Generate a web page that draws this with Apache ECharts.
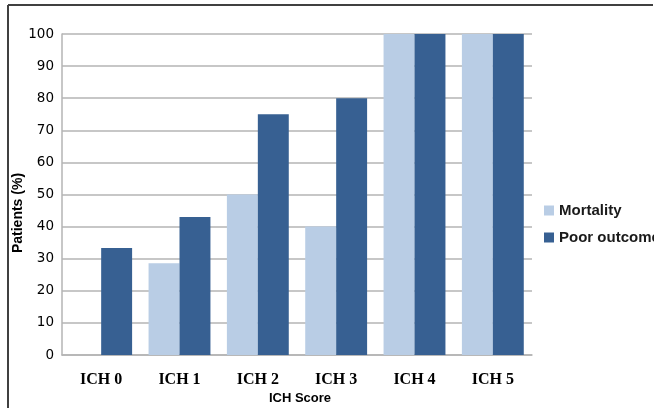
<!DOCTYPE html>
<html>
<head>
<meta charset="utf-8">
<script src="https://cdn.jsdelivr.net/npm/echarts@6/dist/echarts.min.js"></script>
<style>
  html, body { margin: 0; padding: 0; background: #fff; }
  #chart { width: 654px; height: 408px; }
</style>
</head>
<body>
<div id="chart"></div>
<script>
// ICH score groups and outcome percentages
const categories = ['ICH 0', 'ICH 1', 'ICH 2', 'ICH 3', 'ICH 4', 'ICH 5'];
const mortality = [0, 28.6, 50, 40, 100, 100];
const poorOutcomes = [33.3, 43, 75, 80, 100, 100];
const yTicks = [0, 10, 20, 30, 40, 50, 60, 70, 80, 90, 100];

const chart = echarts.init(document.getElementById('chart'), null, { renderer: 'canvas' });

const gridLine = '#b4b4b4';

chart.setOption({
  animation: false,
  backgroundColor: '#ffffff',
  grid: { left: 62, right: 122, top: 34, bottom: 53, containLabel: false },
  legend: {
    orient: 'vertical',
    left: 539,
    top: 198,
    itemWidth: 10,
    itemHeight: 10,
    itemGap: 12,
    icon: 'rect',
    textStyle: {
      fontFamily: 'Liberation Sans, Arial, sans-serif',
      fontWeight: 'bold',
      fontSize: 15,
      lineHeight: 15,
      color: '#1a1a1a'
    },
    data: ['Mortality', 'Poor outcomes']
  },
  xAxis: {
    type: 'category',
    data: categories,
    axisLine: { show: true, lineStyle: { color: gridLine, width: 1.5 } },
    axisTick: { show: false },
    axisLabel: {
      margin: 17,
      fontFamily: 'Liberation Serif, Times New Roman, serif',
      fontWeight: 'bold',
      fontSize: 16,
      color: '#000'
    }
  },
  yAxis: {
    type: 'value',
    min: yTicks[0],
    max: yTicks[yTicks.length - 1],
    interval: 10,
    axisLine: { show: true, lineStyle: { color: gridLine, width: 1.5 } },
    axisTick: { show: false },
    splitLine: { show: true, lineStyle: { color: gridLine, width: 1.5 } },
    axisLabel: {
      margin: 8,
      fontFamily: 'DejaVu Sans, sans-serif',
      fontSize: 13.5,
      color: '#000'
    }
  },
  series: [
    {
      name: 'Mortality',
      type: 'bar',
      data: mortality,
      barGap: '0%',
      barCategoryGap: '21%',
      itemStyle: { color: '#b9cde5' }
    },
    {
      name: 'Poor outcomes',
      type: 'bar',
      data: poorOutcomes,
      barGap: '0%',
      barCategoryGap: '21%',
      itemStyle: { color: '#376092' }
    }
  ],
  graphic: [
    // chart frame: top and left edges
    { type: 'line', shape: { x1: 8, y1: 5, x2: 653, y2: 5 }, style: { stroke: '#404040', lineWidth: 2 } },
    { type: 'line', shape: { x1: 8, y1: 5, x2: 8, y2: 408 }, style: { stroke: '#404040', lineWidth: 2 } },
    {
      type: 'text',
      x: 18,
      y: 213,
      rotation: Math.PI / 2,
      style: {
        text: 'Patients (%)',
        fontFamily: 'Liberation Sans, Arial, sans-serif',
        fontWeight: 'bold',
        fontSize: 14,
        fill: '#000',
        align: 'center',
        verticalAlign: 'middle'
      }
    },
    {
      type: 'text',
      x: 300,
      y: 398,
      style: {
        text: 'ICH Score',
        fontFamily: 'Liberation Sans, Arial, sans-serif',
        fontWeight: 'bold',
        fontSize: 13,
        fill: '#000',
        align: 'center',
        verticalAlign: 'middle'
      }
    }
  ]
});
</script>
</body>
</html>
